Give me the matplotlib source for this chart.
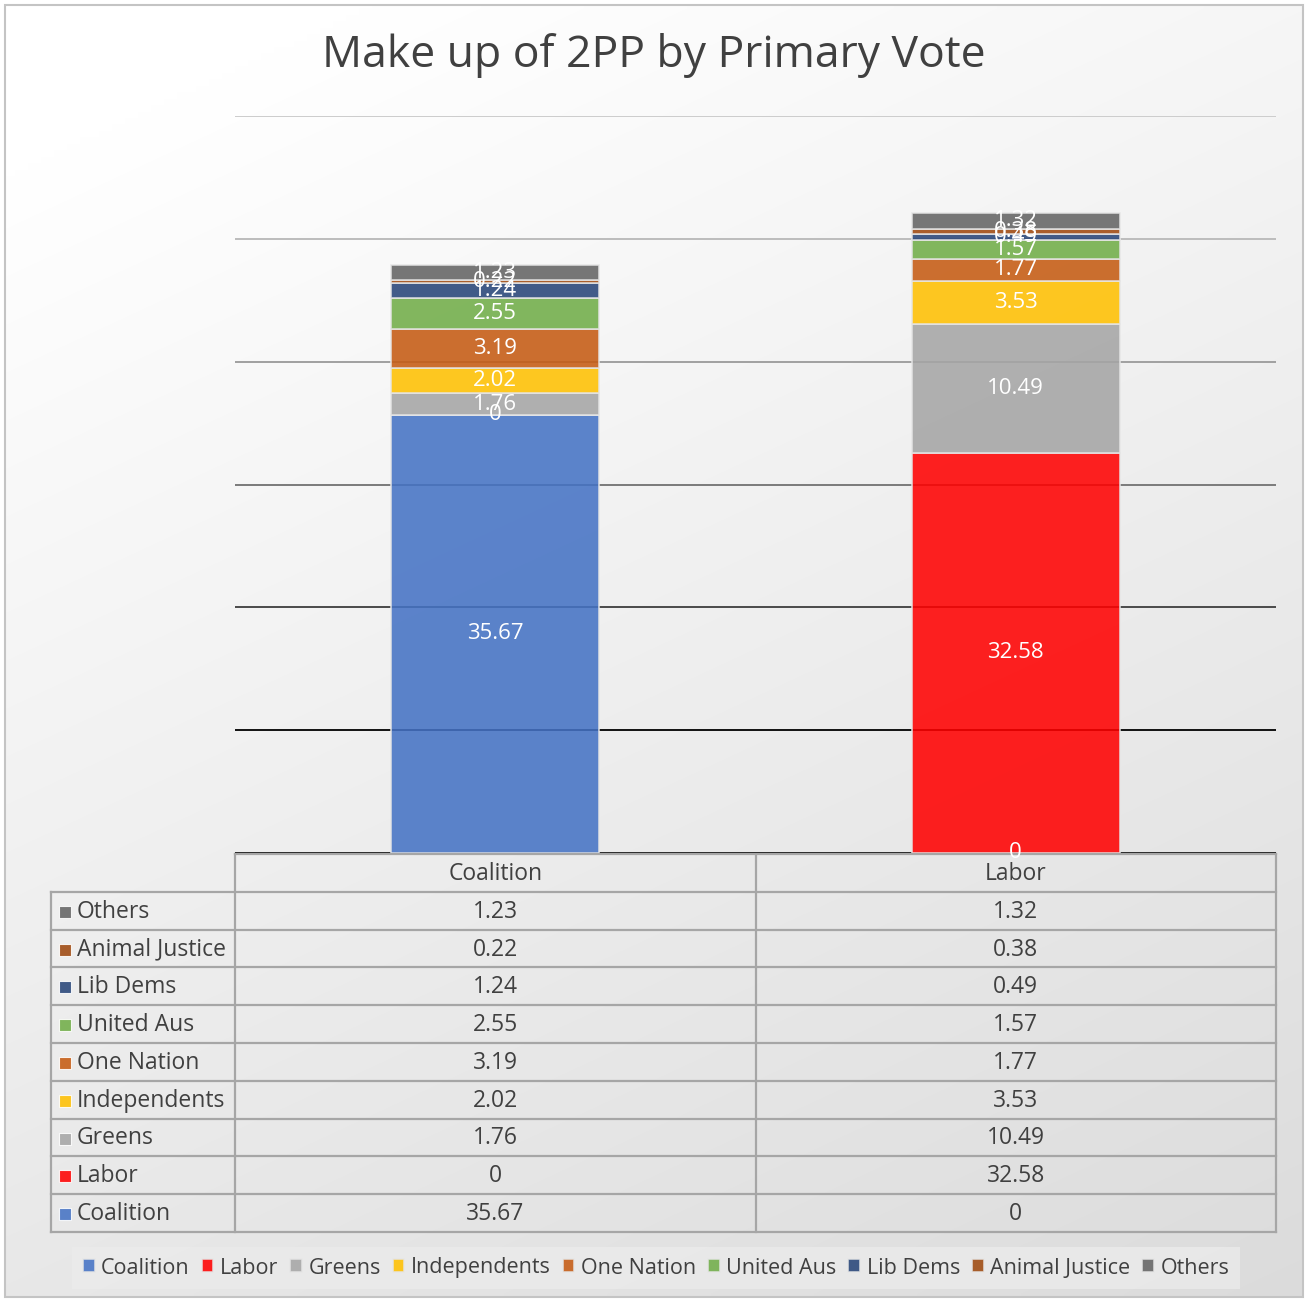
"""Make up of 2PP by primary vote: stacked bars with an Excel-style data table."""

import numpy as np
import matplotlib

matplotlib.use("Agg")
import matplotlib.pyplot as plt
from matplotlib.patches import Rectangle

categories = ["Coalition", "Labor"]
parties = [
    "Coalition", "Labor", "Greens", "Independents", "One Nation",
    "United Aus", "Lib Dems", "Animal Justice", "Others",
]
coalition_values = [35.67, 0, 1.76, 2.02, 3.19, 2.55, 1.24, 0.22, 1.23]
labor_values = [0, 32.58, 10.49, 3.53, 1.77, 1.57, 0.49, 0.38, 1.32]
value_labels = {
    "Coalition": ["35.67", "0", "1.76", "2.02", "3.19", "2.55", "1.24", "0.22", "1.23"],
    "Labor": ["0", "32.58", "10.49", "3.53", "1.77", "1.57", "0.49", "0.38", "1.32"],
}
colors = [
    "#4472C4", "#FF0000", "#A5A5A5", "#FFC000", "#C55A11",
    "#70AD47", "#264478", "#9E480E", "#636363",
]
y_ticks = [0, 10, 20, 30, 40, 50, 60]
grid_colors = ["#2b2b2b", "#111111", "#4a4a4a", "#7a7a7a", "#a0a0a0", "#bcbcbc", "#cccccc"]

W, H = 1308, 1299
plt.rcParams["font.family"] = ["Open Sans", "DejaVu Sans"]
text_color = "#404040"

fig = plt.figure(figsize=(W / 100, H / 100), dpi=100)

# background layer in pixel coordinates
bg = fig.add_axes([0, 0, 1, 1], zorder=0)
bg.set_xlim(0, W)
bg.set_ylim(H, 0)
bg.axis("off")
yy, xx = np.mgrid[0:1:200j, 0:1:200j]
shade = 1.0 - 0.14 * np.clip(0.75 * yy + 0.35 * xx - 0.1, 0, 1)
bg.imshow(np.dstack([shade] * 3), extent=[5, 1303, 1297, 5], aspect="auto",
          interpolation="bilinear")
bg.add_patch(Rectangle((5, 5), 1298, 1292, fill=False, edgecolor="#c4c4c4", lw=1.5))

# main plot area
left, right, top, bottom = 235, 1276, 116, 853
ax = fig.add_axes([left / W, 1 - bottom / H, (right - left) / W, (bottom - top) / H],
                  zorder=1)
ax.patch.set_alpha(0)
ax.set_xlim(-0.5, 1.5)
ax.set_ylim(0, 60)
for spine in ax.spines.values():
    spine.set_visible(False)
ax.set_xticks([])
ax.set_yticks([])
for tick, gc in zip(y_ticks, grid_colors):
    ax.axhline(tick, color=gc, lw=1.4, zorder=0)

x = np.arange(len(categories))
series = np.array([coalition_values, labor_values]).T
bottoms = np.zeros(len(categories))
for i, party in enumerate(parties):
    vals = series[i]
    ax.bar(x, vals, width=0.4, bottom=bottoms, color=colors[i], alpha=0.87,
           edgecolor="#e6e6e6", linewidth=1.2, label=party, zorder=2)
    for j, cat in enumerate(categories):
        ax.text(x[j], bottoms[j] + vals[j] / 2, value_labels[cat][i],
                ha="center", va="center", color="white", fontsize=16, zorder=3)
    bottoms = bottoms + vals

fig.text(0.5, 1 - 56 / H, "Make up of 2PP by Primary Vote", ha="center", va="center",
         fontsize=32, color=text_color)

# data table under the axis
row_h = 37.8
col_edges = [51, left, (left + right) / 2, right]
table_top = bottom + 1
n_rows = len(parties)
line_kw = dict(color="#a6a6a6", lw=1.6, zorder=2)
bg.plot([left, right], [table_top, table_top], **line_kw)
for cx in col_edges[1:]:
    bg.plot([cx, cx], [table_top, table_top + row_h * (n_rows + 1)], **line_kw)
bg.plot([51, 51], [table_top + row_h, table_top + row_h * (n_rows + 1)], **line_kw)
for r in range(1, n_rows + 2):
    y0 = table_top + row_h * r
    bg.plot([51, right], [y0, y0], **line_kw)
table_fs = 16.5
for j, cat in enumerate(categories):
    cx = (col_edges[j + 1] + col_edges[j + 2]) / 2
    bg.text(cx, table_top + row_h / 2 + 1, cat, ha="center", va="center",
            fontsize=table_fs, color=text_color)
for r, i in enumerate(reversed(range(n_rows))):
    yc = table_top + row_h * (r + 1.5) + 1
    bg.add_patch(Rectangle((59, yc - 6), 12, 12, facecolor=colors[i], alpha=0.87,
                           edgecolor="white", lw=0.8, zorder=3))
    bg.text(77, yc, parties[i], ha="left", va="center", fontsize=table_fs,
            color=text_color)
    for j, cat in enumerate(categories):
        cx = (col_edges[j + 1] + col_edges[j + 2]) / 2
        bg.text(cx, yc, value_labels[cat][i], ha="center", va="center",
                fontsize=table_fs, color=text_color)

# legend
handles, labels = ax.get_legend_handles_labels()
leg = fig.legend(handles, labels, loc="center", bbox_to_anchor=(656 / W, 1 - 1268 / H),
                 ncol=9, frameon=True, handlelength=0.55, handleheight=0.55,
                 handletextpad=0.3, columnspacing=0.55, borderpad=0.5, fancybox=False,
                 fontsize=15.5, labelcolor=text_color)
leg.get_frame().set_facecolor("#ebebeb")
leg.get_frame().set_edgecolor("none")

fig.savefig("out.png", dpi=100)
